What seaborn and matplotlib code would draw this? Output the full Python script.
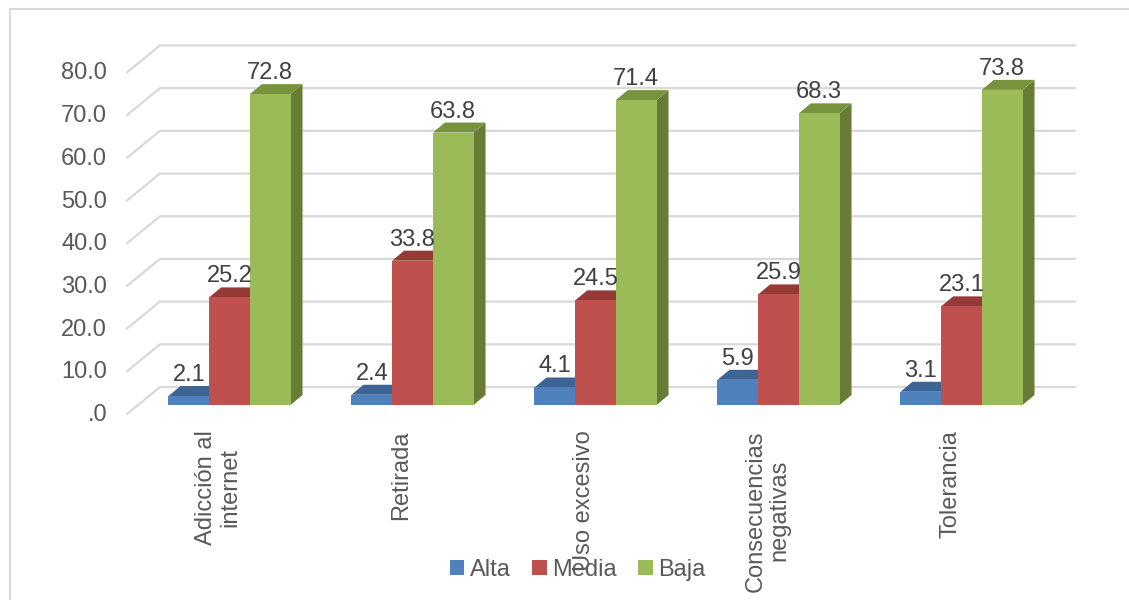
import numpy as np
import pandas as pd
import seaborn as sns
import matplotlib.pyplot as plt
from matplotlib.patches import Polygon, Rectangle, Patch
from matplotlib.lines import Line2D
from matplotlib.transforms import IdentityTransform

# datos del grafico
categorias = ["Adicción al\ninternet", "Retirada", "Uso excesivo",
              "Consecuencias\nnegativas", "Tolerancia"]
niveles = ["Alta", "Media", "Baja"]
alta = [2.1, 2.4, 4.1, 5.9, 3.1]
media = [25.2, 33.8, 24.5, 25.9, 23.1]
baja = [72.8, 63.8, 71.4, 68.3, 73.8]
y_ticks = [0, 10, 20, 30, 40, 50, 60, 70, 80]
y_labels = [".0", "10.0", "20.0", "30.0", "40.0", "50.0", "60.0", "70.0", "80.0"]

colores = ["#4F81BD", "#C0504D", "#9BBB59"]
tapas = ["#3C6494", "#963A38", "#77933C"]
lados = ["#345783", "#7F2F2D", "#677D36"]

df = pd.DataFrame({
    "categoria": categorias * 3,
    "nivel": [n for n in niveles for _ in categorias],
    "valor": alta + media + baja,
})

sns.set_style("white")
plt.rcParams["font.family"] = ["Liberation Sans", "DejaVu Sans"]

fig = plt.figure(figsize=(11.29, 6), dpi=100)
# axes = plano frontal de las barras (pixeles medidos en la referencia)
ax = fig.add_axes([138 / 1129, 195 / 600, 915 / 1129, 341.6 / 600])
sns.barplot(data=df, x="categoria", y="valor", hue="nivel", order=categorias,
            hue_order=niveles, palette=colores, saturation=1, width=0.667,
            linewidth=0, legend=False, ax=ax)
ax.set_xlim(-0.5, 4.5)
ax.set_ylim(0, 80)
ax.axis("off")

T = ax.transData.transform
ident = IdentityTransform()
depth = np.array([12, 10])     # profundidad de la barra (px)
back = np.array([22, 18])      # pared del fondo
front = np.array([-11, -9])    # borde frontal del piso
grid_c = "#D9D9D9"

# cuadricula en perspectiva
for v in y_ticks:
    p = T((-0.5, v))
    q = T((4.5, v))
    pts = np.array([p + front, p + back, q + back])
    ax.add_artist(Line2D(pts[:, 0], pts[:, 1], transform=ident, color=grid_c,
                         lw=1.6, zorder=0.5, clip_on=False))

for j, cont in enumerate(ax.containers):
    for bar in cont:
        x0, w, h = bar.get_x(), bar.get_width(), bar.get_height()
        bl = T((x0, 0))
        tr = T((x0 + w, h))
        L, B, R, Tp = bl[0], bl[1], tr[0], tr[1]
        dx, dy = depth
        top = Polygon([(L, Tp), (R, Tp), (R + dx, Tp + dy), (L + dx, Tp + dy)],
                      closed=True, transform=ident, facecolor=tapas[j],
                      edgecolor="none", zorder=3 + 3 * j, clip_on=False)
        side = Polygon([(R, B), (R, Tp), (R + dx, Tp + dy), (R + dx, B + dy)],
                       closed=True, transform=ident, facecolor=lados[j],
                       edgecolor="none", zorder=3 + 3 * j, clip_on=False)
        ax.add_artist(side)
        ax.add_artist(top)
        bar.set_zorder(4 + 3 * j)
        bar.set_clip_on(False)
        c = T((x0 + w / 2, h))
        ax.text(c[0], c[1] + 10, f"{h:.1f}", transform=ident, ha="center",
                va="bottom", fontsize=17, color="#404040", zorder=20)

# etiquetas del eje y
for v, lab in zip(y_ticks, y_labels):
    p = T((-0.5, v)) + front
    ax.text(p[0] - 20, p[1] - 1, lab, transform=ident, ha="right",
            va="center", fontsize=17, color="#595959")

# etiquetas de categorias
for i, cat in enumerate(categorias):
    p = T((i, 0)) + front
    ax.text(p[0], p[1] - 16, cat, transform=ident, rotation=90, ha="center",
            va="top", multialignment="center", fontsize=17, color="#595959",
            linespacing=1.12)

handles = [Patch(facecolor=c, edgecolor="none") for c in colores]
fig.legend(handles, niveles, loc="center", bbox_to_anchor=(578 / 1129, 1 - 570 / 600),
           ncol=3, frameon=False, fontsize=17, handlelength=0.6, handleheight=0.6,
           handletextpad=0.25, columnspacing=0.9, labelcolor="#595959")

fig.patches.append(Rectangle((10 / 1129, -0.1), 1.2, 0.1 + 591 / 600, fill=False,
                             edgecolor="#D9D9D9", lw=1.5, transform=fig.transFigure))

fig.savefig("out.png", dpi=100)
